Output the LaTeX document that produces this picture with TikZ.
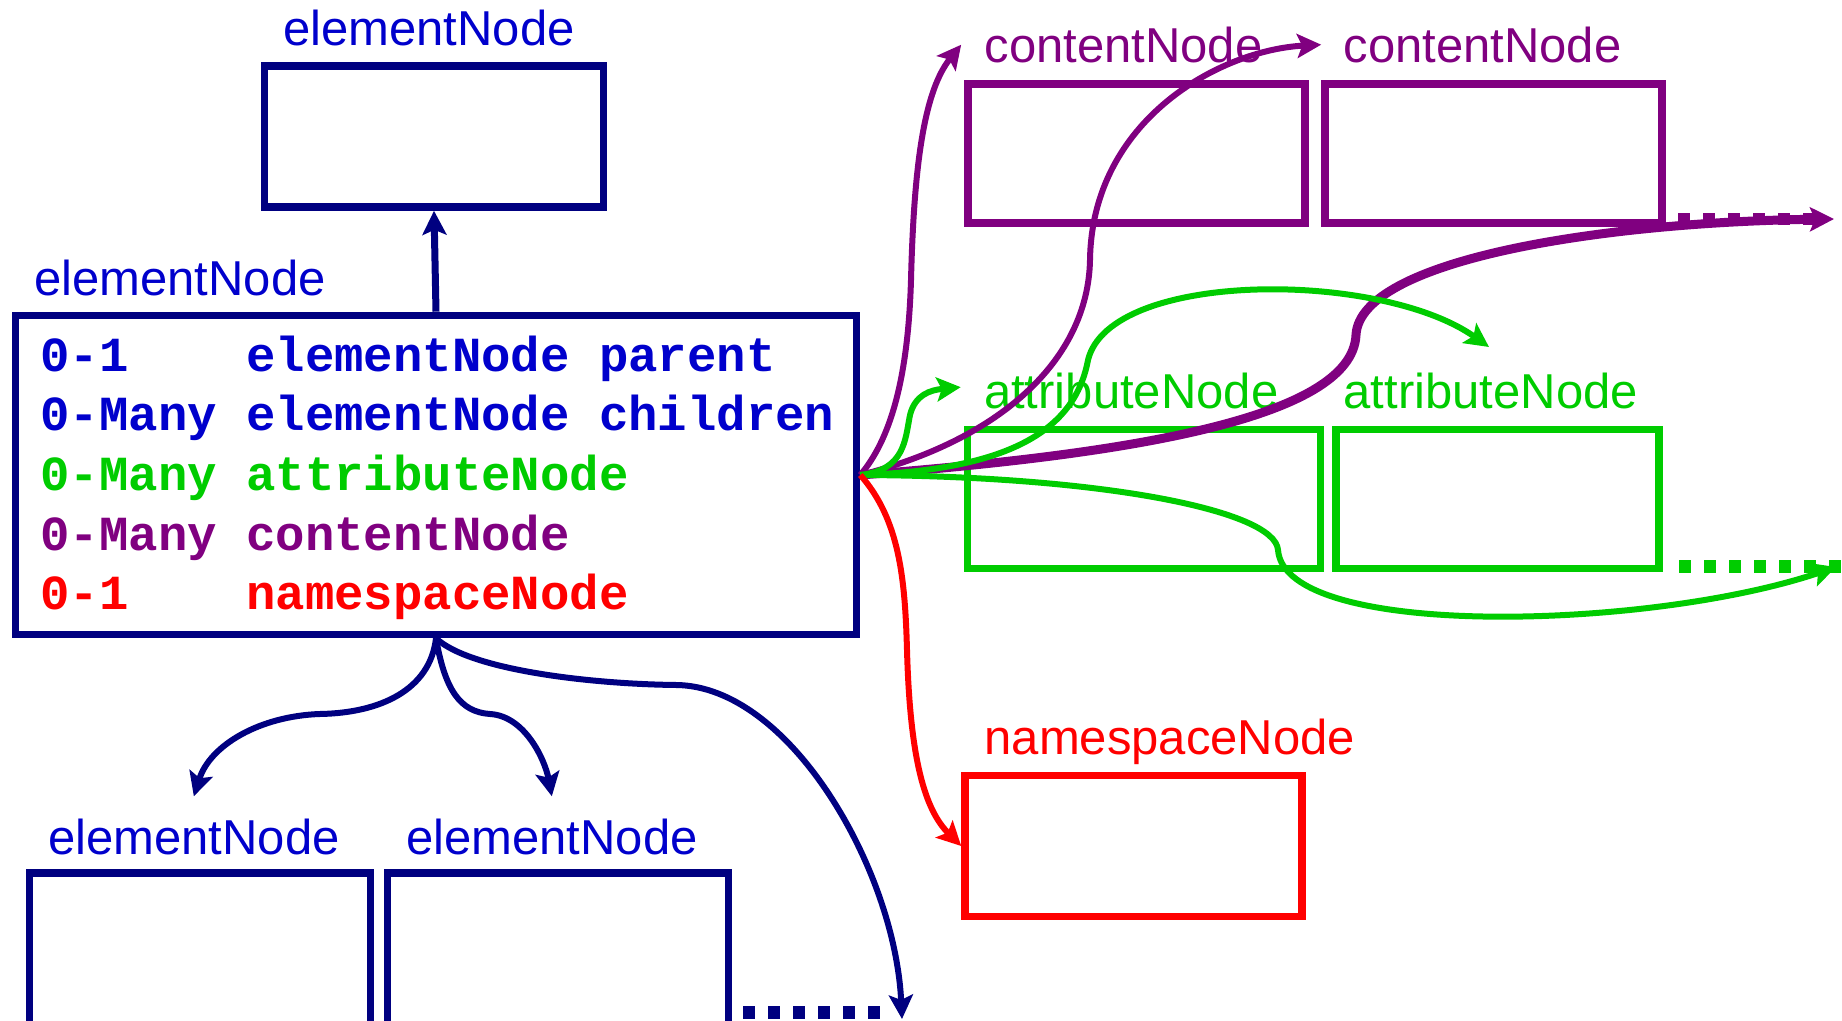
\documentclass[tikz,border=0pt]{standalone}
\usepackage{fontspec}
\setmainfont{Liberation Sans}
\newfontfamily\rowfont{Liberation Mono}
\usetikzlibrary{arrows.meta}
\definecolor{navyline}{RGB}{0,0,128}
\definecolor{elemblue}{RGB}{0,0,204}
\definecolor{attrgreen}{RGB}{0,204,0}
\definecolor{contpurple}{RGB}{128,0,128}
\definecolor{nsred}{RGB}{255,0,0}
\tikzset{
	nodebox/.style={draw=#1, line width=3.8pt, inner sep=0pt},
	boxlabel/.style={anchor=base west, inner sep=0pt, text=#1, font=\fontsize{24.5}{29}\selectfont},
	rowtext/.style={anchor=base west, inner sep=0pt, text=#1, font=\rowfont\bfseries\fontsize{24.5}{29}\selectfont},
	link/.style={draw=#1, line width=3pt, -{Stealth[length=12pt,width=12pt,inset=2.5pt]}},
	etc/.style={draw=#1, line width=6.5pt, dash pattern=on 6pt off 6.5pt}
}

\begin{document}
\begin{tikzpicture}[x=0.5pt, y=-0.5pt]
		%%%%% START %%%%%
		\useasboundingbox (0, 0) rectangle (1842, 1021);
		
		\node[nodebox=navyline, minimum width=169.5pt, minimum height=70.5pt] (topEl) at (434, 136.5) {};
		\node[boxlabel=elemblue] (topElLbl) at ([xshift=11pt, yshift=8.5pt]topEl.north west) {elementNode};
		
		\node[nodebox=navyline, minimum width=420.5pt, minimum height=159.5pt] (mainEl) at (436, 475) {};
		\node[boxlabel=elemblue] (mainElLbl) at ([xshift=11pt, yshift=8pt]mainEl.north west) {elementNode};
		\node[rowtext=elemblue] (rowParent) at (40, 372) {0-1\ \ \ \ elementNode parent};
		\node[rowtext=elemblue] (rowChildren) at (40, 431) {0-Many elementNode children};
		\node[rowtext=attrgreen] (rowAttr) at (40, 491) {0-Many attributeNode};
		\node[rowtext=contpurple] (rowCont) at (40, 550) {0-Many contentNode};
		\node[rowtext=nsred] (rowNs) at (40, 609) {0-1\ \ \ \ namespaceNode};
		
		\node[nodebox=navyline, minimum width=170.5pt, minimum height=77pt] (childA) at (200, 950) {};
		\node[nodebox=navyline, minimum width=170.5pt, minimum height=77pt] (childB) at (558, 950) {};
		\node[boxlabel=elemblue] (childALbl) at ([xshift=11pt, yshift=7.5pt]childA.north west) {elementNode};
		\node[boxlabel=elemblue] (childBLbl) at ([xshift=11pt, yshift=7.5pt]childB.north west) {elementNode};
		
		\node[nodebox=contpurple, minimum width=168.5pt, minimum height=69.5pt] (contA) at (1136.5, 153.5) {};
		\node[nodebox=contpurple, minimum width=168.5pt, minimum height=69.5pt] (contB) at (1493.5, 153.5) {};
		\node[boxlabel=contpurple] (contALbl) at ([xshift=10pt, yshift=9pt]contA.north west) {contentNode};
		\node[boxlabel=contpurple] (contBLbl) at ([xshift=11pt, yshift=9pt]contB.north west) {contentNode};
		
		\node[nodebox=attrgreen, minimum width=176.5pt, minimum height=69.5pt] (attrA) at (1144, 499) {};
		\node[nodebox=attrgreen, minimum width=161.5pt, minimum height=69.5pt] (attrB) at (1497.5, 499) {};
		\node[boxlabel=attrgreen] (attrALbl) at ([xshift=10pt, yshift=8.5pt]attrA.north west) {attributeNode};
		\node[boxlabel=attrgreen] (attrBLbl) at ([xshift=5.5pt, yshift=8.5pt]attrB.north west) {attributeNode};
		
		\node[nodebox=nsred, minimum width=168.5pt, minimum height=70.5pt] (nsNode) at (1133.5, 846) {};
		\node[boxlabel=nsred] (nsLbl) at ([xshift=11.5pt, yshift=8.5pt]nsNode.north west) {namespaceNode};
		
		% free ends
		\coordinate (moreChildren) at (902, 1019);
		\coordinate (moreContent) at (1834, 219);
		\coordinate (moreAttr) at (1836, 567);
		\coordinate (attrBTip) at (1489, 347);
		
		% parent
		\draw[link=navyline, line width=3.5pt] (mainEl.north) -- (topEl.south);
		
		% children
		\draw[link=navyline] (mainEl.south) .. controls (430, 690) and (380, 713) .. (320, 714) .. controls (260, 716) and (210, 745) .. ([yshift=11pt]childALbl.north);
		\draw[link=navyline] (mainEl.south) .. controls (445, 690) and (460, 712) .. (490, 714) .. controls (525, 716) and (545, 760) .. ([yshift=11pt]childBLbl.north);
		\draw[link=navyline] (mainEl.south) .. controls (470, 670) and (590, 684) .. (676, 685) .. controls (790, 686) and (895, 870) .. (moreChildren);
		\draw[etc=navyline] (743, 1012) -- (886, 1012);
		
		% content
		\draw[link=contpurple] (mainEl.east) .. controls (890, 440) and (908, 380) .. (911, 280) .. controls (914, 160) and (925, 90) .. ([xshift=-11.5pt]contALbl.west);
		\draw[link=contpurple] (mainEl.east) .. controls (1000, 440) and (1088, 360) .. (1090, 260) .. controls (1092, 120) and (1220, 50) .. ([xshift=-11pt]contBLbl.west);
		\draw[link=contpurple, line width=4.5pt] (mainEl.east) .. controls (1120, 455) and (1352, 420) .. (1356, 335) .. controls (1360, 260) and (1600, 222) .. (moreContent);
		\draw[etc=contpurple, line width=6pt] (1678, 219) -- (1815, 219);
		
		% attributes
		\draw[link=attrgreen] (mainEl.east) .. controls (905, 470) and (905, 440) .. (910, 415) .. controls (915, 395) and (930, 390) .. ([xshift=-11.5pt, yshift=2pt]attrALbl.west);
		\draw[link=attrgreen] (mainEl.east) .. controls (1010, 470) and (1075, 430) .. (1088, 360) .. controls (1110, 270) and (1380, 270) .. (attrBTip);
		\draw[link=attrgreen] (mainEl.east) .. controls (1100, 476) and (1275, 510) .. (1278, 550) .. controls (1285, 640) and (1650, 630) .. (moreAttr);
		\draw[etc=attrgreen] (1679, 566) -- (1842, 566);
		
		% namespace
		\draw[link=nsred] (mainEl.east) .. controls (900, 520) and (905, 580) .. (907, 650) .. controls (910, 760) and (925, 810) .. (nsNode.west);
		
		%%%%% END %%%%%
\end{tikzpicture}
\end{document}
